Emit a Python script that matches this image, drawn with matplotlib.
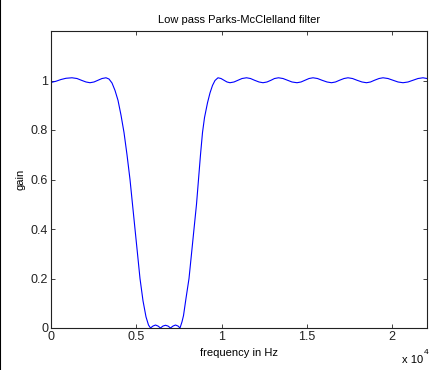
import matplotlib
matplotlib.use("Agg")
import matplotlib.pyplot as plt
from matplotlib.lines import Line2D

plt.rcParams['font.family'] = ['Liberation Sans', 'DejaVu Sans']

# frequency (Hz) and gain
freq = [0, 293, 586, 880, 1232, 1525, 1818, 2053, 2287, 2522, 2756, 2991,
        3225, 3401, 3577, 3753, 3929, 4105, 4281, 4457, 4633, 4779, 4926,
        5073, 5219, 5395, 5571, 5718, 5835,
        5982, 6128, 6275, 6421, 6568, 6715, 6861, 7008, 7158, 7301, 7448, 7565,
        7682, 7770, 7917, 8093, 8240, 8386, 8533, 8650, 8767, 8885, 9002,
        9178, 9325, 9471, 9617, 9793,
        9970, 10145, 10321, 10497, 10732, 10966, 11201, 11465, 11700, 11934,
        12198, 12432, 12667, 12902, 13107, 13342, 13605, 13869, 14133, 14426,
        14661, 14896, 15130, 15365, 15629, 15892, 16186, 16450, 16684, 16919,
        17183, 17417, 17681, 17945, 18238, 18502, 18737, 18971, 19235, 19470,
        19763, 20056, 20349, 20643, 20936, 21229, 21522, 21816, 22050]
gain = [0.992, 0.997, 1.004, 1.009, 1.011, 1.008, 1.0, 0.994, 0.991, 0.994,
        1.001, 1.008, 1.011, 1.006, 0.99, 0.96, 0.92, 0.86, 0.79, 0.70, 0.60,
        0.50, 0.40, 0.30, 0.20, 0.11, 0.045, 0.012, 0.0,
        0.008, 0.012, 0.008, 0.0, 0.008, 0.011, 0.008, 0.0, 0.008, 0.012, 0.008, 0.0,
        0.025, 0.05, 0.12, 0.20, 0.30, 0.40, 0.50, 0.60, 0.70, 0.79, 0.85,
        0.91, 0.95, 0.98, 1.0, 1.011,
        1.008, 1.001, 0.994, 0.991, 0.994, 1.001, 1.008, 1.011, 1.008, 1.001,
        0.994, 0.991, 0.994, 1.001, 1.008, 1.011, 1.008, 1.001, 0.994, 0.991,
        0.994, 1.001, 1.008, 1.011, 1.008, 1.001, 0.994, 0.991, 0.994, 1.001,
        1.008, 1.011, 1.008, 1.001, 0.994, 0.991, 0.994, 1.001, 1.008, 1.011,
        1.008, 1.001, 0.994, 0.991, 0.994, 1.001, 1.008, 1.011, 1.008]

xticks = [0, 5000, 10000, 15000, 20000]
xtick_labels = ['0', '0.5', '1', '1.5', '2']
yticks = [0, 0.2, 0.4, 0.6, 0.8, 1]
ytick_labels = ['0', '0.2', '0.4', '0.6', '0.8', '1']

fig = plt.figure(figsize=(4.29, 3.70), dpi=100)
ax = fig.add_axes([51 / 429, 42 / 370, 376 / 429, 297 / 370])

ax.plot(freq, gain, color='#0000ff', lw=0.8)

ax.set_xlim(0, 22050)
ax.set_ylim(0, 1.2)
ax.set_xticks(xticks)
ax.set_xticklabels(xtick_labels)
ax.set_yticks(yticks)
ax.set_yticklabels(ytick_labels)
ax.tick_params(direction='in', length=3, width=0.6, labelsize=9, top=True,
               right=True, pad=2, colors='#222222')
for s in ax.spines.values():
    s.set_linewidth(0.8)
    s.set_color('#222222')

ax.set_title('Low pass Parks-McClelland filter', fontsize=8, pad=6)
ax.set_xlabel('frequency in Hz', fontsize=8, labelpad=4)
ax.set_ylabel('gain', fontsize=8, labelpad=3.5)

# MATLAB style exponent label
fig.text(402 / 429, 1 - 360 / 370, 'x 10', fontsize=8, va='center', ha='left')
fig.text(424 / 429, 1 - 352 / 370, '4', fontsize=6, va='center', ha='left')

# black edge on the left of the picture
fig.add_artist(Line2D([0.001, 0.001], [0, 1], color='black', lw=1.5,
                      transform=fig.transFigure))

fig.savefig('out.png', dpi=100)
